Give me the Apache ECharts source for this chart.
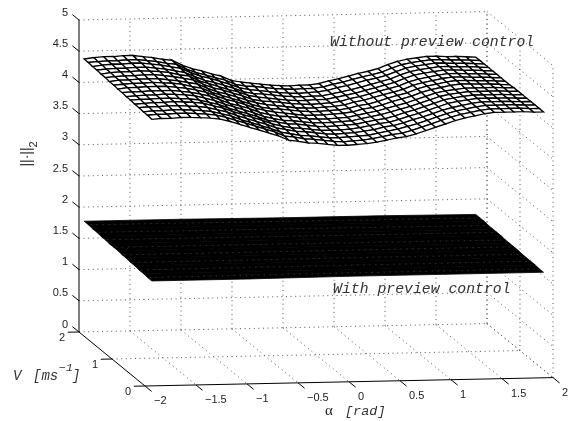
<!DOCTYPE html>
<html><head><meta charset="utf-8">
<style>html,body{margin:0;padding:0;background:#fff}#c{width:573px;height:421px}</style>
<script src="https://cdn.jsdelivr.net/npm/echarts@6/dist/echarts.min.js"></script>
</head><body><div id="c"></div>
<script>
const alphaTicks=[-2,-1.5,-1,-0.5,0,0.5,1,1.5,2];
const alphaTickLabels=['−2','−1.5','−1','−0.5','0','0.5','1','1.5','2'];
const vTicks=[0,1,2];
const vTickLabels=['0','1','2'];
const zTicks=[0,0.5,1,1.5,2,2.5,3,3.5,4,4.5,5];
const zTickLabels=['0','0.5','1','1.5','2','2.5','3','3.5','4','4.5','5'];
// surface heights in hundredths; rows run from V low to V high, columns from alpha low to alpha high
const upperHeights=[
[428,429,429,430,430,429,428,426,422,417,412,407,402,397,390,388,385,384,382,380,380,381,382,384,387,390,392,396,401,406,411,416,420,423,426,428,428,428,428,427,427],
[429,430,430,431,431,430,429,427,423,418,413,408,403,398,391,389,386,385,383,381,380,381,382,384,387,390,392,396,401,406,411,416,420,423,426,428,428,428,428,427,427],
[429,430,430,431,431,430,429,427,423,419,413,408,403,398,392,389,386,385,383,381,381,382,383,384,387,390,393,397,401,406,411,416,420,423,426,428,428,428,428,427,427],
[430,431,431,432,432,431,430,428,424,420,414,409,404,399,393,390,387,386,384,382,381,382,383,385,387,391,393,397,402,406,411,416,420,423,426,428,428,428,428,427,427],
[430,431,432,432,433,432,431,429,425,421,415,410,405,400,394,390,387,386,384,382,382,382,383,385,388,391,393,397,402,406,411,416,421,424,426,428,428,428,428,427,427],
[431,432,432,433,433,432,431,429,425,421,415,410,405,400,394,391,388,387,385,383,382,383,384,385,388,391,393,397,402,406,411,416,421,424,426,428,428,428,428,427,427],
[431,432,433,433,434,433,432,430,426,422,416,411,406,401,395,391,388,387,385,383,383,383,384,385,388,391,394,398,402,406,411,416,421,424,426,428,428,428,428,427,427],
[432,433,433,434,434,434,432,430,427,423,417,411,407,402,396,392,389,388,386,384,383,383,384,385,388,391,394,398,402,406,411,416,421,424,426,428,428,428,428,427,427],
[432,434,434,435,435,435,433,431,428,424,418,412,408,403,397,393,390,388,386,384,384,384,385,386,388,392,394,398,403,407,411,417,421,424,427,429,429,428,428,427,426],
[433,434,435,435,436,435,434,432,428,425,418,413,408,403,398,393,390,389,387,385,384,384,385,386,388,392,394,398,403,407,411,417,421,424,427,429,429,428,428,427,426],
[433,435,435,436,436,436,434,432,429,426,419,413,409,404,399,394,391,389,387,385,384,384,385,386,388,392,395,399,403,407,411,417,421,424,427,429,429,428,428,427,426],
[434,435,436,436,437,437,435,433,430,427,420,414,410,405,400,394,391,390,388,386,385,384,385,386,388,392,395,399,403,407,411,417,421,424,427,429,429,428,428,427,426],
[434,436,437,437,438,437,436,434,430,428,420,415,410,405,401,395,392,390,388,386,385,385,386,386,389,392,395,399,403,407,411,417,422,425,427,429,429,428,428,427,426],
[435,436,437,437,438,438,436,434,431,428,421,415,411,406,401,395,392,391,389,387,386,385,386,386,389,392,395,399,403,407,411,417,422,425,427,429,429,428,428,427,426],
[435,437,438,438,439,439,437,435,432,429,422,416,412,407,402,396,393,391,389,387,386,385,386,387,389,393,396,400,404,407,411,417,422,425,427,429,429,428,428,427,426],
[436,437,438,438,439,439,437,435,432,430,422,416,412,407,403,396,393,392,390,388,387,386,387,387,389,393,396,400,404,407,411,417,422,425,427,429,429,428,428,427,426],
[436,438,439,439,440,440,438,436,433,431,423,417,413,408,404,397,394,392,390,388,387,386,387,387,389,393,396,400,404,407,411,417,422,425,427,429,429,428,428,427,426]
];
const lowerHeights=[
[169,169,170,170,170],
[169,170,170,170,170],
[170,170,170,171,171],
[170,171,171,171,171],
[171,171,171,171,171],
[171,171,172,172,171],
[172,172,172,172,172],
[172,172,172,172,172],
[173,173,173,172,172],
[173,173,173,173,172],
[173,173,173,173,173],
[174,174,174,173,173],
[174,174,174,173,173],
[175,174,174,174,173],
[175,175,175,174,174],
[176,175,175,174,174],
[176,176,175,175,174]
];
const surfaceLabels=['Without preview control','With preview control'];

// oblique view of the (alpha, V, height) box, in page units
const project=(a,v,z)=>[79+(a+2)*102+(2-v)*33, 332-(a+2)*2.1+(2-v)*27-z*62.4];
const meshA=(i,n)=>-1.94+3.84*i/(n-1);
const meshV=(j,n)=>-0.02+2.05*j/(n-1);

const dotted=[],solid=[],specks=[];
const seg=(list,a0,v0,z0,a1,v1,z1)=>list.push([...project(a0,v0,z0),...project(a1,v1,z1)]);
zTicks.forEach(z=>{seg(dotted,-2,2,z,2,2,z);seg(dotted,2,2,z,2,0,z);});
alphaTicks.slice(1).forEach(a=>{seg(dotted,a,2,0,a,2,5);});
alphaTicks.slice(1).forEach(a=>{seg(dotted,a,2,0,a,0,0);});
vTicks.forEach(v=>{seg(dotted,2,v,0,2,v,5);});
seg(dotted,-2,1,0,2,1,0);
seg(solid,-2,2,0,-2,2,5);
seg(solid,-2,2,0,-2,0,0);
seg(solid,-2,0,0,2,0,0);
zTicks.forEach(z=>seg(solid,-2,2,z,-2,2.2,z));
vTicks.forEach(v=>seg(solid,-2,v,0,-2.11,v,0));
alphaTicks.forEach(a=>seg(solid,a,0,0,a,-0.2,0));

const cells=[];
const addCells=(table,kind)=>{
  const rows=table.length,cols=table[0].length;
  for(let j=rows-1;j>0;j--)for(let i=0;i<cols-1;i++){
    const c=[[i,j],[i+1,j],[i+1,j-1],[i,j-1]].map(([x,y])=>project(meshA(x,cols),meshV(y,rows),table[y][x]/100));
    cells.push([c[0][0],c[0][1],c[1][0],c[1][1],c[2][0],c[2][1],c[3][0],c[3][1],kind]);
  }
};
addCells(lowerHeights,0);
addCells(upperHeights,1);
lowerHeights.forEach((row,j)=>{
  if(j%2===0||j===lowerHeights.length-1)return;
  const n=lowerHeights.length,m=row.length;
  seg(specks,meshA(0,m)+0.02,meshV(j,n),row[0]/100,meshA(m-1,m),meshV(j,n),row[m-1]/100);
});

const texts=[];
const addText=(text,pt,opt)=>texts.push({text,pt,opt});
const sans='"Liberation Sans",Arial,sans-serif',mono='"Liberation Mono",monospace';
zTicks.forEach((z,i)=>{const p=project(-2,2,z);addText(zTickLabels[i],[68,p[1]-7.5],{align:'right',fontSize:11,fontFamily:sans});});
alphaTicks.forEach((a,i)=>{const p=project(a,0,0);addText(alphaTickLabels[i],[p[0]+9,p[1]+15],{align:'left',fontSize:11,fontFamily:sans});});
vTicks.forEach((v,i)=>{const p=project(-2,v,0);addText(vTickLabels[i],[p[0]-17,p[1]+6],{align:'center',fontSize:11,fontFamily:sans});});
addText(surfaceLabels[0],[330,42],{align:'left',fontSize:14.8,fontFamily:mono,fontStyle:'italic',fill:'#333'});
addText(surfaceLabels[1],[333,289],{align:'left',fontSize:14.8,fontFamily:mono,fontStyle:'italic',fill:'#333'});
addText('V',[13,376],{align:'left',fontSize:14,fontFamily:mono,fontStyle:'italic',fill:'#333'});
addText('[ms',[33,376],{align:'left',fontSize:14,fontFamily:mono,fontStyle:'italic',fill:'#333'});
addText('−1',[59,368],{align:'left',fontSize:11.5,fontFamily:mono,fontStyle:'italic',fill:'#333'});
addText(']',[72,376],{align:'left',fontSize:14,fontFamily:mono,fontStyle:'italic',fill:'#333'});
addText('α',[325,411],{align:'left',fontSize:15,fontFamily:'"Liberation Serif",serif'});
addText('[rad]',[345,411],{align:'left',fontSize:13.5,fontFamily:mono,fontStyle:'italic',fill:'#333'});
addText('||·||',[27,157],{align:'center',fontSize:14,fontFamily:sans,rotation:Math.PI/2});
addText('2',[34,144.5],{align:'center',fontSize:11,fontFamily:sans,rotation:Math.PI/2});

const lineSeries=(data,style,z)=>({
  type:'custom',coordinateSystem:'cartesian2d',silent:true,animation:false,progressive:0,z,clip:false,
  data,
  renderItem:(p,api)=>{
    const a=api.coord([api.value(0),api.value(1)]),b=api.coord([api.value(2),api.value(3)]);
    return {type:'line',shape:{x1:a[0],y1:a[1],x2:b[0],y2:b[1]},style};
  }
});
const chart=echarts.init(document.getElementById('c'),null,{renderer:'canvas'});
chart.setOption({
  animation:false,backgroundColor:'#fff',
  grid:{left:0,top:0,width:573,height:421,containLabel:false},
  xAxis:{type:'value',min:0,max:573,show:false},
  yAxis:{type:'value',min:0,max:421,inverse:true,show:false},
  series:[
    lineSeries(dotted,{stroke:'#555',lineWidth:1,lineDash:[1,3.6],fill:null},1),
    {
      type:'custom',coordinateSystem:'cartesian2d',silent:true,animation:false,progressive:0,z:2,clip:false,
      data:cells,
      renderItem:(p,api)=>{
        const pts=[0,2,4,6].map(k=>api.coord([api.value(k),api.value(k+1)]));
        const upper=api.value(8)===1;
        return {type:'polygon',shape:{points:pts},style:upper?{fill:'#fff',stroke:'#000',lineWidth:1.3}:{fill:'#000',stroke:'#000',lineWidth:0.8}};
      }
    },
    lineSeries(specks,{stroke:'#333',lineWidth:0.9,lineDash:[1.5,4.5],fill:null},2.5),
    lineSeries(solid,{stroke:'#000',lineWidth:1,fill:null},3),
    {
      type:'custom',coordinateSystem:'cartesian2d',silent:true,animation:false,progressive:0,z:4,clip:false,
      data:texts.map(t=>[t.pt[0],t.pt[1]]),
      renderItem:(p,api)=>{
        const t=texts[p.dataIndex],c=api.coord([api.value(0),api.value(1)]);
        const {rotation,...o}=t.opt;
        return {type:'text',x:c[0],y:c[1],rotation:rotation||0,style:{text:t.text,x:0,y:0,verticalAlign:'middle',fill:'#222',...o}};
      }
    }
  ]
});
</script></body></html>
